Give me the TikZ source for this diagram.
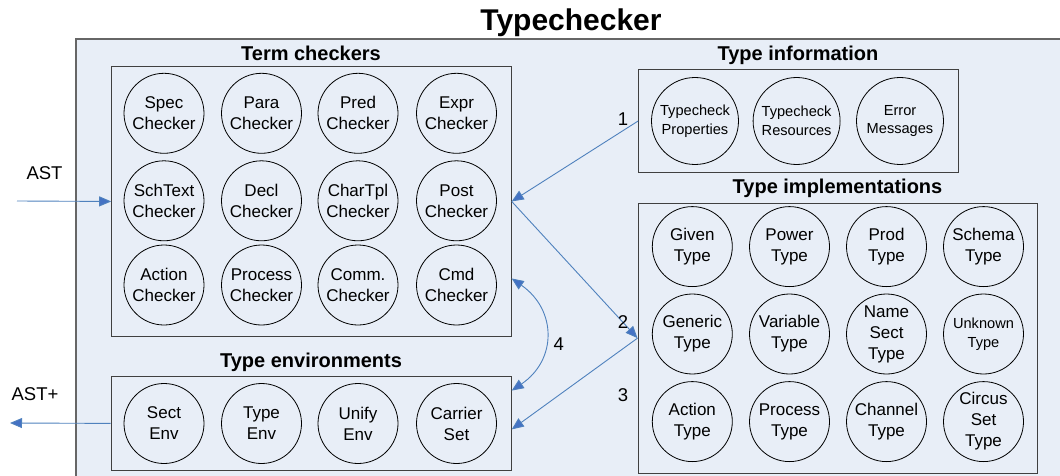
\documentclass[tikz,border=0pt]{standalone}
\usepackage{fontspec}
\setmainfont{Liberation Sans}
\usetikzlibrary{arrows.meta}
\definecolor{panelfill}{RGB}{232,238,247}
\definecolor{linkblue}{RGB}{79,129,189}
\definecolor{tipblue}{RGB}{68,114,196}
\tikzset{
  ball/.style={circle, draw=black, line width=0.8pt, minimum size=80pt, inner sep=0pt,
    align=center, font=\fontsize{17}{21}\selectfont},
  smallball/.style={ball, font=\fontsize{14.6}{18.5}\selectfont},
  infoball/.style={smallball, minimum size=87pt},
  group/.style={draw=black!75, line width=0.9pt, anchor=north west, inner sep=0pt},
  head/.style={anchor=base, font=\fontsize{20}{24}\selectfont\bfseries},
  tag/.style={anchor=base, font=\fontsize{18.5}{22}\selectfont},
  link/.style={draw=linkblue, line width=0.9pt, -{Triangle[length=12pt,width=10pt,fill=tipblue]}},
  dlink/.style={draw=linkblue, line width=0.9pt, {Triangle[length=12pt,width=10pt,fill=tipblue]}-{Triangle[length=12pt,width=10pt,fill=tipblue]}}
}
\begin{document}
\begin{tikzpicture}[x=1pt, y=-1pt]
\useasboundingbox (0,0) rectangle (1060,476);

% enclosing typechecker area
\begin{scope}
  \clip (0,0) rectangle (1060,476);
  \node[anchor=north west, fill=panelfill, draw=black!60, line width=1.6pt,
        minimum width=1010pt, minimum height=460pt, inner sep=0pt] (outer) at (75,38) {};
\end{scope}
\node[anchor=base, font=\fontsize{30}{34}\selectfont\bfseries] (title) at (571,30.4) {Typechecker};

% group frames
\node[group, minimum width=399.6pt, minimum height=269.4pt] (tc) at (111.2,66.3) {};
\node[group, minimum width=400.3pt, minimum height=94.7pt] (tenv) at (110.5,375.6) {};
\node[group, minimum width=319.5pt, minimum height=102.4pt] (tinfo) at (638.2,69.3) {};
\node[group, minimum width=399.9pt, minimum height=269.8pt] (timpl) at (637.5,202.8) {};

% group headings
\node[head] (tcHead) at (311,61) {Term checkers};
\node[head] (tenvHead) at (311,367.8) {Type environments};
\node[head] (tinfoHead) at (798,61) {Type information};
\node[head] (timplHead) at (837.5,193.5) {Type implementations};

% term checkers
\node[ball] (spec) at (164,113.3) {Spec\\Checker};
\node[ball] (para) at (261.5,113.3) {Para\\Checker};
\node[ball] (pred) at (358,113.3) {Pred\\Checker};
\node[ball] (expr) at (456.5,113.3) {Expr\\Checker};
\node[ball] (schtext) at (164,200.8) {SchText\\Checker};
\node[ball] (decl) at (261.5,200.8) {Decl\\Checker};
\node[ball] (chartpl) at (358,200.8) {CharTpl\\Checker};
\node[ball] (post) at (456.5,200.8) {Post\\Checker};
\node[ball] (action) at (164,285) {Action\\Checker};
\node[ball] (process) at (261.5,285) {Process\\Checker};
\node[ball] (comm) at (358,285) {Comm.\\Checker};
\node[ball] (cmd) at (456.5,285) {Cmd\\Checker};

% type environments
\node[ball] (sectenv) at (164,423.5) {Sect\\Env};
\node[ball] (typeenv) at (261.5,423.5) {Type\\Env};
\node[ball] (unifyenv) at (358,423.5) {Unify\\Env};
\node[ball] (carrier) at (456.5,423.5) {Carrier\\Set};

% type information
\node[infoball] (props) at (695,121) {Typecheck\\Properties};
\node[infoball] (res) at (796.6,121) {Typecheck\\Resources};
\node[infoball] (msgs) at (900,121) {Error\\Messages};

% type implementations
\node[ball] (given) at (692.3,246.6) {Given\\Type};
\node[ball] (power) at (789.5,246.6) {Power\\Type};
\node[ball] (prod) at (886.5,246.6) {Prod\\Type};
\node[ball] (schema) at (983.5,246.6) {Schema\\Type};
\node[ball] (generic) at (692.3,334) {Generic\\Type};
\node[ball] (variable) at (789.5,334) {Variable\\Type};
\node[ball] (namesect) at (886.5,334) {Name\\Sect\\Type};
\node[smallball] (unknown) at (983.5,334) {Unknown\\Type};
\node[ball] (actiontype) at (692.3,421.6) {Action\\Type};
\node[ball] (processtype) at (789.5,421.6) {Process\\Type};
\node[ball] (channel) at (886.5,421.6) {Channel\\Type};
\node[ball] (circusset) at (983.5,421.6) {Circus\\Set\\Type};

% input and output of the typechecker
\coordinate (astIn) at (17,201);
\coordinate (astOut) at (10,423);
\node[tag] (ast) at (44.5,179.2) {AST};
\node[tag] (astplus) at (35,400.6) {AST+};
\draw[link] (astIn) -- (tc.west);
\draw[link] (tenv.west) -- (astOut);

% dependencies between the groups
\draw[link] (tinfo.west) -- (tc.east);
\draw[link] (tc.east) -- (timpl.west);
\draw[link] (timpl.west) -- ([yshift=-6pt]tenv.east);
\draw[dlink] ([yshift=-77pt]tc.east) .. controls (557,310) and (557,360) .. ([yshift=-15pt]tenv.north east);

\node[tag] (n1) at (623,126) {1};
\node[tag] (n2) at (623,328) {2};
\node[tag] (n3) at (623,401) {3};
\node[tag] (n4) at (558.7,350) {4};
\end{tikzpicture}
\end{document}
